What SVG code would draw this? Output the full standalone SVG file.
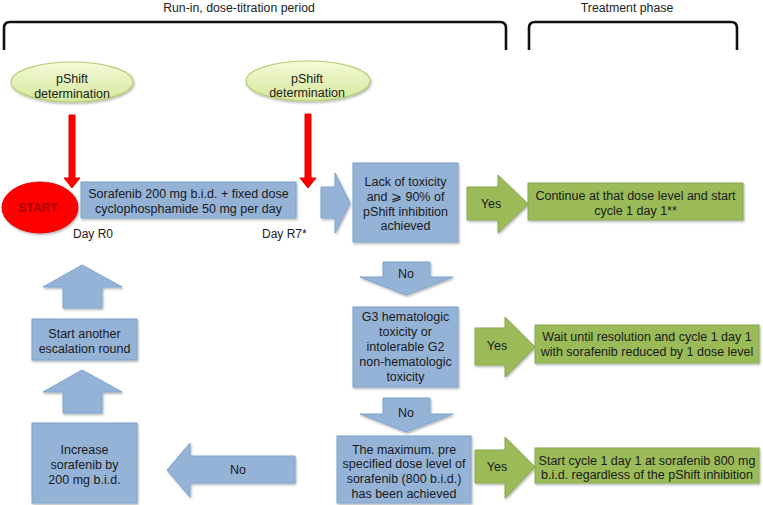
<svg xmlns="http://www.w3.org/2000/svg" width="763" height="505" viewBox="0 0 763 505">
<style>
text{font-family:"Liberation Sans",Arial,sans-serif;font-size:12.5px;fill:#1a1a1a;text-anchor:middle}
.hdr{font-size:12.3px;fill:#222}
.blue{fill:#95b3d7;stroke:#7fa3cc;stroke-width:1}
.green{fill:#9bbb59;stroke:#8aa84d;stroke-width:1}
.ell{fill:url(#eg);stroke:#b5cd74;stroke-width:1.2}
.red{fill:#ff0000;stroke:#e60000;stroke-width:1}
.brk{fill:none;stroke:#111;stroke-width:2.6}
.sh{filter:url(#ds)}
.st{font-weight:bold;fill:#a80000;font-size:12px}
.l{text-anchor:start;font-size:12px}
</style>
<defs>
<linearGradient id="eg" x1="0" y1="0" x2="0" y2="1">
<stop offset="0" stop-color="#f4fad8"/>
<stop offset="1" stop-color="#d6e89c"/>
</linearGradient>
<filter id="ds" x="-10%" y="-10%" width="125%" height="130%">
<feDropShadow dx="1" dy="1.5" stdDeviation="1" flood-color="#000" flood-opacity="0.3"/>
</filter>
</defs>
<rect width="763" height="505" fill="#fff"/>
<g id="headers">
<text class="hdr" x="239" y="11.5">Run-in, dose-titration period</text>
<text class="hdr" x="627" y="11.5">Treatment phase</text>
<path class="brk" d="M4 50 V28 Q4 22 10 22 H500 Q506 22 506 28 V50"/>
<path class="brk" d="M529 50 V28 Q529 22 535 22 H731 Q737 22 737 28 V50"/>
</g>
<g id="connectors">
<polygon class="red" points="69,115 75,115 75,178 80,178 72,188 64,178 69,178"/>
<polygon class="red" points="305,114 311,114 311,178 316,178 308,188 300,178 305,178"/>
<polygon class="blue sh" points="321,187 335,187 335,173 350,203 335,233 335,218 321,218"/>
<polygon class="green sh" points="467,187 498,187 498,175 528,204 498,233 498,220 467,220"/>
<text x="491" y="207.5">Yes</text>
<polygon class="blue sh" points="383,262 430,262 430,277 453,277 406,295 360,277 383,277"/>
<text x="406" y="277.5">No</text>
<polygon class="green sh" points="475,328 505,328 505,317 535,347 505,377 505,365 475,365"/>
<text x="497" y="349.5">Yes</text>
<polygon class="blue sh" points="383,398 430,398 430,414 453,414 406,432 360,414 383,414"/>
<text x="406" y="416.5">No</text>
<polygon class="green sh" points="475,450 505,450 505,437 535,467 505,498 505,483 475,483"/>
<text x="497" y="470.5">Yes</text>
<polygon class="blue sh" points="295,456 190,456 190,443 167,470 190,497 190,483 295,483"/>
<text x="238" y="473.5">No</text>
<polygon class="blue sh" points="82,265 122,287 102,287 102,308 63,308 63,287 43,287"/>
<polygon class="blue sh" points="82,370 122,392 102,392 102,413 63,413 63,392 43,392"/>
</g>
<g id="pshift1">
<ellipse class="ell sh" cx="72" cy="82" rx="61" ry="20"/>
<text x="72" y="82.5">pShift</text>
<text x="72" y="97.5">determination</text>
</g>
<g id="pshift2">
<ellipse class="ell sh" cx="308" cy="81" rx="62" ry="20"/>
<text x="307" y="82.5">pShift</text>
<text x="307" y="97">determination</text>
</g>
<g id="start">
<ellipse class="red sh" cx="40" cy="207.5" rx="38" ry="25.5"/>
<text class="st" x="38" y="211.5">START</text>
</g>
<g id="sorafenib">
<rect class="blue sh" x="81" y="182" width="215" height="36"/>
<text x="188.5" y="197.5">Sorafenib 200 mg b.i.d. + fixed dose</text>
<text x="188.5" y="212.5">cyclophosphamide 50 mg per day</text>
<text class="l" x="73" y="237.5">Day R0</text>
<text class="l" x="262" y="237.5">Day R7*</text>
</g>
<g id="lack">
<rect class="blue sh" x="353" y="163" width="105" height="79"/>
<text x="405.5" y="185.5">Lack of toxicity</text>
<text x="405.5" y="200.5">and ⩾ 90% of</text>
<text x="405.5" y="215.5">pShift inhibition</text>
<text x="405.5" y="230">achieved</text>
</g>
<g id="continue">
<rect class="green sh" x="528" y="183" width="215" height="37"/>
<text x="635.5" y="199.5">Continue at that dose level and start</text>
<text x="635.5" y="214.5">cycle 1 day 1**</text>
</g>
<g id="g3">
<rect class="blue sh" x="353" y="307" width="105" height="80"/>
<text x="405.5" y="320.5">G3 hematologic</text>
<text x="405.5" y="335.5">toxicity or</text>
<text x="405.5" y="350.5">intolerable G2</text>
<text x="405.5" y="365.5">non-hematologic</text>
<text x="405.5" y="381">toxicity</text>
</g>
<g id="wait">
<rect class="green sh" x="535" y="325" width="224" height="38"/>
<text x="647" y="340.5">Wait until resolution and cycle 1 day 1</text>
<text x="647" y="355.5">with sorafenib reduced by 1 dose level</text>
</g>
<g id="max">
<rect class="blue sh" x="337" y="436" width="134" height="67"/>
<text x="404" y="453.5">The maximum. pre</text>
<text x="404" y="467.5">specified dose level of</text>
<text x="404" y="482.5">sorafenib (800 b.i.d.)</text>
<text x="404" y="497.5">has been achieved</text>
</g>
<g id="start800">
<rect class="green sh" x="535" y="448" width="224" height="35"/>
<text x="647" y="464.5">Start cycle 1 day 1 at sorafenib 800 mg</text>
<text x="647" y="478.5">b.i.d. regardless of the pShift inhibition</text>
</g>
<g id="another">
<rect class="blue sh" x="32" y="319" width="105" height="41"/>
<text x="84.5" y="337.5">Start another</text>
<text x="84.5" y="352.5">escalation round</text>
</g>
<g id="increase">
<rect class="blue sh" x="32" y="423" width="105" height="80"/>
<text x="84.5" y="453.5">Increase</text>
<text x="84.5" y="468.5">sorafenib by</text>
<text x="84.5" y="483.5">200 mg b.i.d.</text>
</g>
</svg>
